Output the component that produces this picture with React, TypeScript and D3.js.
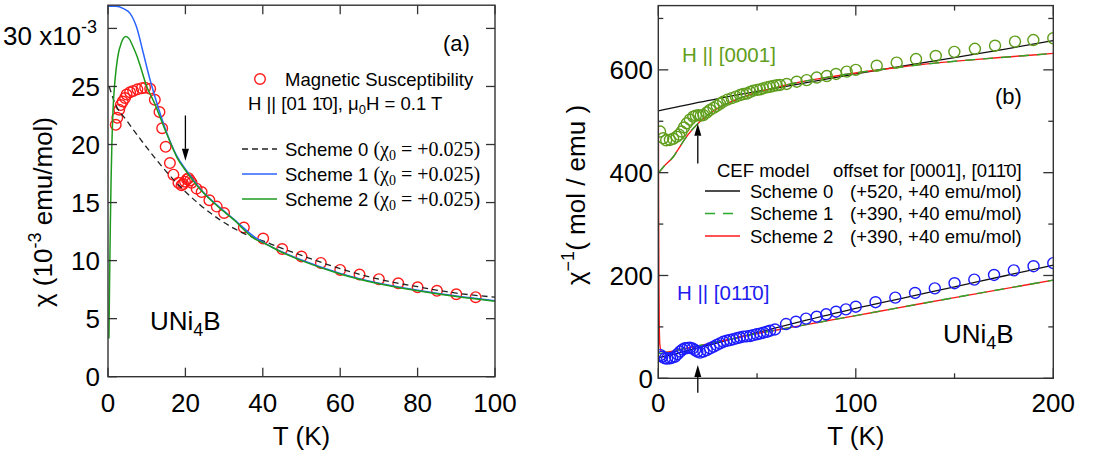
import React from 'react';
import * as d3 from 'd3';

// ---------- Panel (a): chi (1e-3 emu/mol) vs T ----------
const susT = [2.0, 2.4, 2.9, 3.3, 3.8, 4.4, 4.8, 5.7, 6.5, 7.6, 8.7, 9.6, 10.9, 12.1, 13.3, 14.0, 14.9, 16.0, 16.9, 18.2, 19.0, 19.4, 19.9, 20.4, 20.8, 21.2, 21.6, 22.9, 24.2, 26.2, 28.1, 30.0, 35.1, 40.1, 45, 50, 55, 60, 65, 70, 75, 80, 85, 90, 95];
const susChi = [21.7, 22.3, 23.0, 23.4, 23.7, 24.0, 24.3, 24.5, 24.6, 24.75, 24.85, 24.9, 24.8, 23.85, 22.8, 21.4, 19.8, 18.4, 17.4, 16.7, 16.5, 16.6, 16.8, 17.0, 17.1, 16.9, 16.7, 16.2, 15.9, 15.2, 14.65, 14.1, 12.85, 11.9, 11.0, 10.35, 9.8, 9.2, 8.8, 8.4, 8.05, 7.7, 7.4, 7.1, 6.85];

const s0aT = [0.3, 0.6, 1.5, 5, 8.5, 12, 15.5, 19.5, 23.8, 28.1, 32.4, 36, 40, 45, 50, 60, 70, 80, 90, 100];
const s0aChi = [25.0, 24.7, 23.8, 22.0, 20.4, 18.9, 17.5, 16.1, 14.8, 13.7, 12.8, 12.2, 11.7, 11.05, 10.45, 9.3, 8.4, 7.75, 7.2, 6.85];

const s1aT = [0, 2, 4, 5.7, 7.4, 9.1, 10.85, 12.6, 15.2, 17.8, 20.4, 23.8, 28.1, 32.4, 38, 40, 45, 50, 60, 70, 80, 90, 100];
const s1aChi = [31.9, 31.9, 31.7, 31.3, 30.1, 27.9, 25.6, 23.6, 21.0, 19.0, 17.7, 16.2, 14.8, 13.6, 12.0, 11.6, 10.75, 10.05, 8.9, 8.05, 7.45, 6.95, 6.55];

const s2aT = [0.25, 0.4, 0.6, 0.8, 1.0, 1.3, 1.8, 2.5, 3.5, 4.6, 5.5, 6.5, 7.5, 8.3, 10, 11.7, 15.2, 17.8, 20.4, 23.8, 28.1, 32.4, 38, 40, 45, 50, 60, 70, 80, 90, 100];
const s2aChi = [3.3, 8, 13, 17, 20, 23, 25.5, 27.5, 28.8, 29.3, 29.1, 28.4, 27.6, 26.8, 25.0, 23.8, 20.9, 18.9, 17.6, 16.15, 14.75, 13.55, 11.85, 11.55, 10.7, 10.0, 8.85, 8.0, 7.4, 6.9, 6.5];

const xTicksA = [0, 20, 40, 60, 80, 100];
const yTicksA = [0, 5, 10, 15, 20, 25, 30];

// ---------- Panel (b): 1/chi (mol/emu) vs T ----------
const c0001T = [0.9, 2.5, 4, 5.9, 7.5, 9.3, 10.5, 11.8, 13, 14.4, 16, 17.7, 19, 20.3, 21.5, 22.8, 24.5, 26.2, 28, 29.6, 31.2, 32.9, 35, 37.2, 39.3, 41.4, 43, 44.8, 46.5, 48.1, 50, 51.5, 53, 54.9, 56.5, 58.2, 60, 61.6, 65, 70.1, 75.1, 80.2, 85.3, 90, 95.4, 100, 110.6, 120.7, 130.5, 140.5, 149.9, 160.3, 170.5, 180.6, 189.9, 200];
const c0001Inv = [480, 467, 463, 463.6, 466, 470, 474, 480, 488, 496, 503, 509, 511, 512, 511, 512, 517, 522, 526, 530, 534, 538, 542, 545, 548, 551, 553, 554, 557, 559.6, 561, 562, 564, 566, 567, 568.7, 570, 570.6, 572.6, 577, 580, 585, 588, 592, 596.5, 600, 608, 614, 621, 627, 635, 641, 647, 655, 658, 661.5];

const c0110T = [1.2, 2, 3.4, 4.5, 5.9, 7, 8.5, 9.7, 11, 12.3, 13.5, 14.8, 16, 17.3, 18.6, 19.8, 21.1, 22.8, 24.5, 26.2, 28, 29.6, 31.2, 32.9, 34.6, 36.3, 38, 39.7, 41.3, 43, 44.7, 46.4, 48, 49.8, 51.5, 53.2, 54.9, 56.6, 59.1, 64.7, 69.7, 74.8, 80.2, 85, 90, 95, 100, 110, 120, 130, 140, 150, 160, 170, 180, 190, 200];
const c0110Inv = [45, 42, 39, 38.5, 39, 40, 42, 47, 52, 56, 58.4, 59, 59.5, 58, 55, 52, 50, 52, 55, 58.4, 61.5, 64.8, 68, 71, 73, 74.5, 76, 78, 79.5, 81, 81.5, 82.3, 84, 85.6, 87, 88.7, 90.5, 92.6, 95, 105.6, 110, 116, 119.8, 124.5, 129.6, 134, 139.3, 148, 157, 166, 175, 185, 192, 201, 210, 218, 224];

const s0UpT = [0, 25, 50, 75, 100, 125, 150, 175, 200];
const s0UpInv = [520, 540, 558, 575, 592, 608, 624, 640, 657];
const s12UpT = [0, 3, 7.6, 10, 14.3, 21, 25, 30, 40, 50, 60, 70, 80, 100, 120, 140, 160, 180, 200];
const s12UpInv = [399, 413, 431, 445, 470, 499, 512, 525, 543, 556, 566, 575, 582, 594, 604, 613, 620, 626, 632];

const s0LoT = [0, 10, 20, 30, 50, 75, 100, 125, 150, 175, 200];
const s0LoInv = [40, 49, 59, 69, 89, 113, 136, 157, 178, 199, 220];
const s1LoT = [0, 5, 10, 20, 30, 40, 50, 60, 70, 80, 100, 120, 150, 175, 200];
const s1LoInv = [48, 51, 55, 63, 71, 79, 87, 94, 101, 108, 122, 136, 157, 174, 191];
const s2LoT = [0.05, 0.15, 0.3, 0.5, 0.8, 1.5, 3, 5, 10, 20, 30, 40, 50, 60, 70, 80, 100, 120, 150, 175, 200];
const s2LoInv = [499, 350, 200, 100, 65, 53, 51, 51.5, 55, 63, 71, 79, 87, 94, 101, 108, 122, 136, 157, 174, 191];

const xTicksB = [0, 100, 200];
const xMinorB = [50, 150];
const yTicksB = [0, 200, 400, 600];
const yMinorB = [100, 300, 500, 700];

const SANS = 'Liberation Sans, Arial, sans-serif';
const SERIF = 'Liberation Serif, Times New Roman, serif';

const zip = (a: number[], b: number[]) => a.map((v, i) => [v, b[i]] as [number, number]);

function Arrow({ x, y1, y2 }: { x: number; y1: number; y2: number }) {
  const dir = y2 > y1 ? 1 : -1;
  const h = 12;
  return (
    <g>
      <line x1={x} y1={y1} x2={x} y2={y2 - dir * h} stroke="#000" strokeWidth={1.3} />
      <path d={`M${x},${y2} L${x - 3.5},${y2 - dir * h} L${x + 3.5},${y2 - dir * h} Z`} fill="#000" />
    </g>
  );
}

export default function App() {
  const xA = d3.scaleLinear().domain([0, 100]).range([108, 495]);
  const yA = d3.scaleLinear().domain([0, 32]).range([376.7, 5.2]);
  const xB = d3.scaleLinear().domain([0, 200]).range([658.3, 1053.3]);
  const yB = d3.scaleLinear().domain([0, 725]).range([378.3, 5.6]);

  const lineA = d3.line<[number, number]>().x(d => xA(d[0])).y(d => yA(d[1])).curve(d3.curveMonotoneX);
  const lineB = d3.line<[number, number]>().x(d => xB(d[0])).y(d => yB(d[1])).curve(d3.curveMonotoneX);

  const frame = '#333';
  const [ax0, ax1] = xA.range();
  const [ay0, ay1] = yA.range();
  const [bx0, bx1] = xB.range();
  const [by0, by1] = yB.range();

  const red = '#ff1a1a';
  const blueLine = '#2a64ff';
  const greenLine = '#1e9a1e';
  const gCirc = '#5f9e1c';
  const bCirc = '#1c1cff';

  return (
    <svg width={1099} height={464} style={{ position: 'absolute', left: 0, top: 0, background: '#fff' }} fontFamily={SANS}>
      <defs>
        <clipPath id="clipA"><rect x={ax0} y={ay1} width={ax1 - ax0} height={ay0 - ay1} /></clipPath>
        <clipPath id="clipB"><rect x={bx0} y={by1} width={bx1 - bx0} height={by0 - by1} /></clipPath>
      </defs>

      {/* ================= Panel (a) ================= */}
      <g>
        <g clipPath="url(#clipA)">
          {zip(susT, susChi).map((d, i) => (
            <circle key={i} cx={xA(d[0])} cy={yA(d[1])} r={5.3} fill="none" stroke={red} strokeWidth={1.4} />
          ))}
          <path d={lineA(zip(s0aT, s0aChi)) || ''} fill="none" stroke="#222" strokeWidth={1.3} strokeDasharray="6,4" />
          <path d={lineA(zip(s1aT, s1aChi)) || ''} fill="none" stroke={blueLine} strokeWidth={1.5} />
          <path d={lineA(zip(s2aT, s2aChi)) || ''} fill="none" stroke={greenLine} strokeWidth={1.5} />
        </g>
        <rect x={ax0} y={ay1} width={ax1 - ax0} height={ay0 - ay1} fill="none" stroke={frame} strokeWidth={1.4} />
        {xTicksA.map(t => (
          <g key={'xa' + t}>
            <line x1={xA(t)} x2={xA(t)} y1={ay0} y2={ay0 - 9} stroke={frame} strokeWidth={1.3} />
            <line x1={xA(t)} x2={xA(t)} y1={ay1} y2={ay1 + 9} stroke={frame} strokeWidth={1.3} />
            <text x={xA(t)} y={412} fontSize={26} textAnchor="middle">{t}</text>
          </g>
        ))}
        {yTicksA.map(t => (
          <g key={'ya' + t}>
            <line x1={ax0} x2={ax0 + 9} y1={yA(t)} y2={yA(t)} stroke={frame} strokeWidth={1.3} />
            <line x1={ax1} x2={ax1 - 9} y1={yA(t)} y2={yA(t)} stroke={frame} strokeWidth={1.3} />
            {t !== 30 && <text x={100} y={yA(t) + 9.5} fontSize={26} textAnchor="end">{t}</text>}
          </g>
        ))}
        <text x={3} y={45} fontSize={26}>30 x10<tspan dy={-12} fontSize={18}>-3</tspan></text>
        <text x={xA(50)} y={445} fontSize={26} textAnchor="middle">T (K)</text>
        <text transform={`translate(52,212) rotate(-90)`} fontSize={26} textAnchor="middle">
          χ (10<tspan dy={-11} fontSize={18}>-3</tspan><tspan dy={11}>  emu/mol)</tspan>
        </text>
        <text x={443} y={51} fontSize={22}>(a)</text>
        <text x={150} y={330} fontSize={26}>UNi<tspan dy={6} fontSize={18}>4</tspan><tspan dy={-6}>B</tspan></text>
        <Arrow x={xA(20)} y1={yA(22.5)} y2={yA(18.6)} />

        {/* legend */}
        <circle cx={260} cy={79} r={5.3} fill="none" stroke={red} strokeWidth={1.4} />
        <text x={285} y={86} fontSize={18.5}>Magnetic Susceptibility</text>
        <text x={248} y={110} fontSize={18.5}>H || [01 1{'\u0304'}0],  μ<tspan dy={4} fontSize={13}>0</tspan><tspan dy={-4}>H = 0.1 T</tspan></text>
        {[
          { name: 'Scheme 0', color: '#222', dash: '6,4', y: 149 },
          { name: 'Scheme 1', color: blueLine, dash: undefined, y: 174 },
          { name: 'Scheme 2', color: greenLine, dash: undefined, y: 199 },
        ].map(r => (
          <g key={r.name}>
            <line x1={242} x2={277} y1={r.y} y2={r.y} stroke={r.color} strokeWidth={1.4} strokeDasharray={r.dash} />
            <text x={285} y={r.y + 6.5} fontSize={18.5}>
              {r.name + ' '}
              <tspan fontFamily={SERIF} fontSize={20}>(χ</tspan>
              <tspan fontFamily={SERIF} fontSize={14} dy={4}>0</tspan>
              <tspan fontFamily={SERIF} fontSize={20} dy={-4}> = +0.025)</tspan>
            </text>
          </g>
        ))}
      </g>

      {/* ================= Panel (b) ================= */}
      <g>
        <g clipPath="url(#clipB)">
          <path d={lineB(zip(s0UpT, s0UpInv)) || ''} fill="none" stroke="#111" strokeWidth={1.3} />
          <path d={lineB(zip(s0LoT, s0LoInv)) || ''} fill="none" stroke="#111" strokeWidth={1.3} />
          <path d={lineB(zip(s12UpT, s12UpInv)) || ''} fill="none" stroke={red} strokeWidth={1.4} />
          <path d={lineB(zip(s2LoT, s2LoInv)) || ''} fill="none" stroke={red} strokeWidth={1.4} />
          <path d={lineB(zip(s12UpT, s12UpInv)) || ''} fill="none" stroke="#2aa82a" strokeWidth={1.4} strokeDasharray="10,8" />
          <path d={lineB(zip(s1LoT, s1LoInv)) || ''} fill="none" stroke="#2aa82a" strokeWidth={1.4} strokeDasharray="10,8" />
          {zip(c0001T, c0001Inv).map((d, i) => (
            <circle key={'g' + i} cx={xB(d[0])} cy={yB(d[1])} r={5.5} fill="none" stroke={gCirc} strokeWidth={1.4} />
          ))}
          {zip(c0110T, c0110Inv).map((d, i) => (
            <circle key={'b' + i} cx={xB(d[0])} cy={yB(d[1])} r={5.5} fill="none" stroke={bCirc} strokeWidth={1.4} />
          ))}
        </g>
        <rect x={bx0} y={by1} width={bx1 - bx0} height={by0 - by1} fill="none" stroke={frame} strokeWidth={1.4} />
        {xTicksB.map(t => (
          <g key={'xb' + t}>
            <line x1={xB(t)} x2={xB(t)} y1={by0} y2={by0 - 10} stroke={frame} strokeWidth={1.3} />
            <line x1={xB(t)} x2={xB(t)} y1={by1} y2={by1 + 10} stroke={frame} strokeWidth={1.3} />
            <text x={xB(t)} y={412} fontSize={26} textAnchor="middle">{t}</text>
          </g>
        ))}
        {xMinorB.map(t => (
          <g key={'xbm' + t}>
            <line x1={xB(t)} x2={xB(t)} y1={by0} y2={by0 - 5} stroke={frame} strokeWidth={1.3} />
            <line x1={xB(t)} x2={xB(t)} y1={by1} y2={by1 + 5} stroke={frame} strokeWidth={1.3} />
          </g>
        ))}
        {yTicksB.map(t => (
          <g key={'yb' + t}>
            <line x1={bx0} x2={bx0 + 10} y1={yB(t)} y2={yB(t)} stroke={frame} strokeWidth={1.3} />
            <line x1={bx1} x2={bx1 - 10} y1={yB(t)} y2={yB(t)} stroke={frame} strokeWidth={1.3} />
            <text x={653} y={yB(t) + 9.5} fontSize={26} textAnchor="end">{t}</text>
          </g>
        ))}
        {yMinorB.map(t => (
          <g key={'ybm' + t}>
            <line x1={bx0} x2={bx0 + 5} y1={yB(t)} y2={yB(t)} stroke={frame} strokeWidth={1.3} />
            <line x1={bx1} x2={bx1 - 5} y1={yB(t)} y2={yB(t)} stroke={frame} strokeWidth={1.3} />
          </g>
        ))}
        <text x={xB(100)} y={445} fontSize={26} textAnchor="middle">T (K)</text>
        <text transform={`translate(585,195) rotate(-90)`} fontSize={26} textAnchor="middle">
          χ<tspan dy={-11} fontSize={18}>−1</tspan><tspan dy={11}>( mol / emu )</tspan>
        </text>
        <text x={995} y={104} fontSize={22}>(b)</text>
        <text x={682} y={62} fontSize={20.5} fill={gCirc}>H || [0001]</text>
        <text x={677} y={300} fontSize={20.5} fill="#1c1cee">H || [011{'\u0304'}0]</text>
        <text x={943} y={343} fontSize={26}>UNi<tspan dy={6} fontSize={18}>4</tspan><tspan dy={-6}>B</tspan></text>
        <Arrow x={xB(20)} y1={yB(418)} y2={yB(495)} />
        <Arrow x={xB(20)} y1={yB(-28)} y2={yB(26)} />

        {/* legend */}
        <text x={717} y={177} fontSize={18.5}>CEF model</text>
        <text x={833} y={177} fontSize={18.5}>offset for [0001], [011{'\u0304'}0]</text>
        {[
          { name: 'Scheme 0', off: '(+520, +40 emu/mol)', color: '#111', dash: undefined, y: 191 },
          { name: 'Scheme 1', off: '(+390, +40 emu/mol)', color: '#2aa82a', dash: '10,8', y: 213.5 },
          { name: 'Scheme 2', off: '(+390, +40 emu/mol)', color: red, dash: undefined, y: 236 },
        ].map(r => (
          <g key={r.name}>
            <line x1={705} x2={740} y1={r.y} y2={r.y} stroke={r.color} strokeWidth={1.4} strokeDasharray={r.dash} />
            <text x={750} y={r.y + 6.5} fontSize={18.5}>{r.name}</text>
            <text x={850} y={r.y + 6.5} fontSize={18.5}>{r.off}</text>
          </g>
        ))}
      </g>
    </svg>
  );
}
